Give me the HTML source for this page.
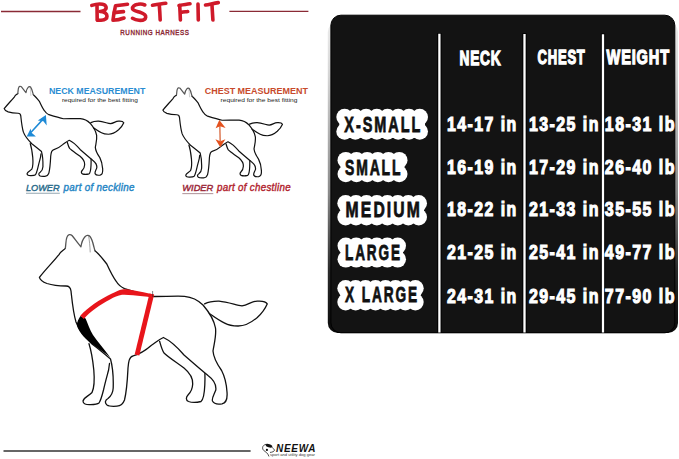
<!DOCTYPE html>
<html><head><meta charset="utf-8">
<style>
html,body{margin:0;padding:0;background:#fff;}
body{width:679px;height:459px;overflow:hidden;position:relative;font-family:"Liberation Sans",sans-serif;}
svg{position:absolute;left:0;top:0;}
</style></head>
<body>
<svg width="679" height="459" viewBox="0 0 679 459">
<defs>
  <g id="dog" fill="none" stroke="#111" stroke-linecap="round" stroke-linejoin="round">
    <path d="M95 250.7 C99 254 103 259 106.8 264 C110 271 113 277 116.2 281.3 C118 284.5 120 286.5 124.5 288.7 C135 292 145 295 152.3 296.5 C165 296.5 175 296 184.5 296.3 C192 297 198 300 203 305 C209 312 214 320 215.5 328 C216.5 336 214 344 213 351 C213.5 358 217 364 221.6 370.5 C225 377 226.5 384 227 392 C227.5 398 226 403 222 403.8 C218 404.5 214 404 212.5 401 C211.5 398 214 395 215.8 390 C216.5 384 214 380 208 375.5 C200 369 192 362 184 355 C178 348 171 341 163.4 337.5 C158 340 155 343 151.5 345.2 C146 350 140 354 133.2 355.9 C129 357 128.5 362 128 368 C127.5 378 127 390 124.5 400 C123 404 121 406 117 406.2 C113 406.5 109 406.5 107 405 C104.5 403 105 400 108 398.5 C111 396 113 393 113.2 388 C113.5 378 113 368 110.5 359 C107 356 100 350 92 344 C85 337 79 330 76 322 C73 312 72 300 71 291 C70.5 287 69 286 66 286 C60 286 53 285.5 47 283.5 C43 282 40 280 39.4 277.4 C45 270 53 262 59 254.6 C61 251 64 250 65.3 248.4"/>
    <path d="M65.3 248.4 C66 244 65.8 239.5 67 237 C68 234.5 70.2 233.8 72 235.5 C74.5 238.5 78 243.5 80.9 246.8 C81.5 243 82.5 239.5 85 236.8 C86.5 235.2 88.5 234.8 90 236.5 C92 239 93 243 93.8 246.5 C94.3 248.5 94.6 249.8 95 250.7" stroke="#555"/>
    <path d="M89 343.7 C91 350 92.8 360 93.8 370 C94.5 378 95 386 92 392.5 C89 396 84 397 83 401 C83 404 86 404.8 90 404.7 C93 404.6 97 404.6 99 403 C101 400 102 396 103.5 390 C105 383 107 376 108.6 370 C109 367 109.3 365 109.5 363.5"/>
    <path d="M159.6 341.3 C161 346 162 350 164 353 C168 357 176 362 184 368 C190 373 193 378 192.7 384 C192.5 389 191 392 188 395 C186 397 185.5 400 188.5 401.5 C192 402.8 197 402.5 201 401.5 C204 399 204.5 392 204.8 385 C205 380 205 376 204.9 373.5"/>
    <path d="M204.6 303.9 C210 301 214 301 219 301.1 C228 302 236 305 242 305.9 C248 305 252 301 257.3 301.1 C262 300.8 266 301.5 267.2 303.9 C265 309 261 314 257.3 317.4 C252 322 244 326 238.1 326 C232 326 228 325 224.7 323.1 C218 320 213 316 209.4 313.5" />
    <path d="M88.6 235.8 C89.5 241 90 246 90.2 252" stroke-width="0.6" stroke="#666"/>
  </g>
</defs>

<!-- Title lines -->
<line x1="1" y1="11.5" x2="80.5" y2="11.5" stroke="#8a2a35" stroke-width="1.4"/>
<line x1="229.4" y1="11.4" x2="308.4" y2="11.4" stroke="#8a2a35" stroke-width="1.4"/>

<!-- BEST FIT -->
<g fill="none" stroke="#cf1a2a" stroke-width="3.6" stroke-linecap="round" stroke-linejoin="round">
  <path d="M91.8 5.4 C95 4.3 99 3.6 102.5 4.2 C106.5 5 107 8.5 104.8 10 C103 11 101 11.3 100 11.5 C104 11.8 107 13.5 107 16.3 C107 19 104.5 20 101 20.2 C99.5 20.3 98.5 20.2 97.5 20.1"/>
  <path d="M97 5 L97.2 20"/>
  <path d="M127.5 4.2 C123 4.6 119 5.2 115.5 5.8 C114.5 10 113.5 15 113 20.2 C117 20.2 121 19.2 124 18"/>
  <path d="M114.3 12.6 C117.5 12.2 120.5 11.9 123.5 11.6"/>
  <path d="M144.8 5 C143 4.2 140.5 3.8 138 4.3 C134 5 132 7 132.5 8.7 C133 10.5 137 11.3 140 12.3 C143.5 13.5 146 15 145.7 17.2 C145.3 19.8 142 20.5 139 20.3 C136 20.1 134 19.2 132.5 18.3"/>
  <path d="M152.5 5.2 C157 4.5 161.5 3.8 165.8 3.2"/>
  <path d="M159.3 5 C159.7 10 160 15 160.2 20"/>
  <path d="M179 5.5 C183 4.8 186.5 4.2 190 3.8"/>
  <path d="M179.7 5.5 C180 10.5 180.2 15 180.4 20"/>
  <path d="M181 12.4 C183.5 12 185.5 11.8 187.7 11.5"/>
  <path d="M198 4 L198.3 20"/>
  <path d="M205.5 5 C210 4.2 214 3.3 218.3 2.6"/>
  <path d="M212 5.3 C212.3 10.5 212.6 15.5 212.9 20"/>
</g>
<text x="120.3" y="35" font-size="6.9" fill="#8a2632" stroke="#8a2632" stroke-width="0.35" letter-spacing="0.6" textLength="69.2" lengthAdjust="spacingAndGlyphs">RUNNING HARNESS</text>

<!-- Neck dog -->
<use href="#dog" transform="translate(-16.5,-36.9) scale(0.525)" stroke-width="2.3"/>
<text x="48.9" y="94.3" font-size="8.6" font-weight="bold" fill="#2a8dd2" textLength="96.4" lengthAdjust="spacingAndGlyphs">NECK MEASUREMENT</text>
<text x="61.9" y="102" font-size="5.5" fill="#222" textLength="76" lengthAdjust="spacingAndGlyphs">required for the best fitting</text>
<g fill="#1e8ad6">
  <path d="M30.5 132.8 C34 129 39 124 43.2 118.8" fill="none" stroke="#1e8ad6" stroke-width="1.6"/>
  <path d="M45.9 115 L46.7 125.4 L43.4 121.2 L37.8 120.6 Z"/>
  <path d="M26.7 136.5 L30.7 128.4 L31.3 132.6 L35.9 136.5 Z"/>
</g>
<text x="26" y="190.9" font-size="9.7" font-style="italic" fill="#2d6d8c" stroke="#2d6d8c" stroke-width="0.45" textLength="33.6" lengthAdjust="spacingAndGlyphs">LOWER</text>
<text x="63.6" y="190.9" font-size="10.3" font-style="italic" fill="#2585c4" stroke="#2585c4" stroke-width="0.4" letter-spacing="0.3" textLength="71.2" lengthAdjust="spacingAndGlyphs">part of neckline</text>
<line x1="26" y1="193.2" x2="59.8" y2="193.2" stroke="#93a6b0" stroke-width="1.1"/>

<!-- Chest dog -->
<use href="#dog" transform="translate(142.2,-35.4) scale(0.525)" stroke-width="2.3"/>
<text x="204.7" y="94.2" font-size="8.6" font-weight="bold" fill="#c84a2c" textLength="103.3" lengthAdjust="spacingAndGlyphs">CHEST MEASUREMENT</text>
<text x="220.6" y="102" font-size="5.5" fill="#222" textLength="76.9" lengthAdjust="spacingAndGlyphs">required for the best fitting</text>
<g fill="#e4521f">
  <path d="M219.8 125 L220.2 141" fill="none" stroke="#dd7a55" stroke-width="1.5"/>
  <path d="M219.3 120.1 L225.6 128 L220 126.3 L215.6 128.3 Z"/>
  <path d="M220.3 147.2 L215.4 139.3 L220.3 141.3 L225.4 139.3 Z"/>
</g>
<text x="182.3" y="190.8" font-size="9.7" font-style="italic" fill="#9c2a3a" stroke="#9c2a3a" stroke-width="0.45" textLength="31" lengthAdjust="spacingAndGlyphs">WIDER</text>
<text x="217.1" y="190.8" font-size="10.3" font-style="italic" fill="#b2252f" stroke="#b2252f" stroke-width="0.4" letter-spacing="0.3" textLength="73.8" lengthAdjust="spacingAndGlyphs">part of chestline</text>
<line x1="182.3" y1="193.6" x2="213.3" y2="193.6" stroke="#b59aa0" stroke-width="1.1"/>

<!-- Large dog -->
<use href="#dog" stroke-width="1.3"/>
<!-- black pad -->
<path d="M80.5 316 C78.5 319 77 322 76.8 325 C79 333 86 340 95 346 C100 350 105 353 110.3 357.4 C103.5 348.5 97.5 341.5 93 335 C89.8 329.5 87.8 323.5 85.6 318.4 Z" fill="#000"/>
<!-- red straps -->
<path d="M80.3 315.8 C88 307 100 299.5 112 293.5 C116 291.5 119 290 122 289.4 C126 289 130 289.6 133 290.3 C140 291.6 147 293 153.5 294.6 L153 297.6 C146 296.6 139 295.8 133 295.3 C129 294.9 125.5 294.6 122 294.8 C118 295.5 114 297.2 110 299.4 C100 304.6 90 311.5 83.8 319 Z" fill="#e8151b"/>
<path d="M151.8 294 L137 355" fill="none" stroke="#e8151b" stroke-width="4.8"/>
<line x1="152.6" y1="291" x2="152.6" y2="297" stroke="#333" stroke-width="0.6"/>

<!-- bottom line + logo -->
<line x1="3.5" y1="451" x2="250.6" y2="451" stroke="#666" stroke-width="2.2"/>
<g fill="none" stroke="#222" stroke-width="0.8" stroke-linecap="round">
  <path d="M265.9 444.3 C264 444.8 262.6 446 262.6 447.8 C262.6 449.5 263.5 450.5 264.8 451.3 C266 452.2 267.3 453 267.9 454.2 C268.3 455 268.6 455.6 268.8 456.1"/>
  <path d="M272.1 447.4 C273.2 448.3 274.3 449.3 274.5 450.3 C274 451.5 272.5 452.2 270.4 452.4"/>
  <ellipse cx="269" cy="445.8" rx="3.4" ry="1.6" transform="rotate(18 269 445.8)" fill="#111" stroke="none"/>
  <circle cx="266.9" cy="449.9" r="1.1" fill="#111" stroke="none"/>
</g>
<text x="276" y="452.2" font-size="10.4" font-weight="bold" font-style="italic" fill="#111" letter-spacing="0.8" textLength="40.3" lengthAdjust="spacingAndGlyphs">NEEWA</text>
<text x="270" y="456.2" font-size="2.8" fill="#333" textLength="45" lengthAdjust="spacingAndGlyphs">sport and utility dog gear</text>

<!-- Size chart panel -->
<defs><linearGradient id="sg" x1="0" y1="0" x2="0" y2="1"><stop offset="0" stop-color="#ececec"/><stop offset="0.15" stop-color="#d8d8d8"/><stop offset="0.55" stop-color="#8a8a8a"/><stop offset="0.8" stop-color="#2a2a2a"/><stop offset="1" stop-color="#0a0a0a"/></linearGradient></defs>
<rect x="327.8" y="22" width="350.2" height="311" rx="10" fill="url(#sg)"/>
<rect x="330.9" y="15.2" width="343.9" height="317.6" rx="10" fill="#131313" stroke="#000" stroke-width="1"/>
<g stroke="#000" stroke-width="4.4">
  <line x1="439.4" y1="33" x2="439.4" y2="332.5"/>
  <line x1="524.5" y1="33.3" x2="524.5" y2="332.5"/>
  <line x1="603" y1="33.5" x2="603" y2="332.5"/>
</g>
<g stroke="#fff" stroke-width="2.3">
  <line x1="439.4" y1="33.7" x2="439.4" y2="332.5"/>
  <line x1="524.5" y1="34" x2="524.5" y2="332.5"/>
  <line x1="603" y1="34.2" x2="603" y2="332.5"/>
</g>
<g fill="#fff" stroke="#fff" stroke-width="1.3" font-weight="bold" font-size="20.8" letter-spacing="1.2" transform="translate(0,-0.8)">
  <text x="459.5" y="65.5" textLength="42" lengthAdjust="spacingAndGlyphs">NECK</text>
  <text x="537.6" y="65.3" textLength="48" lengthAdjust="spacingAndGlyphs">CHEST</text>
  <text x="606.6" y="65.3" textLength="63.3" lengthAdjust="spacingAndGlyphs">WEIGHT</text>
</g>
<g fill="#fff" stroke="#fff" stroke-width="1.1" font-weight="bold" font-size="19.6" letter-spacing="1.8" transform="translate(0,-0.5)">
  <text x="447" y="131.1" textLength="70.7" lengthAdjust="spacingAndGlyphs">14-17 in</text>
  <text x="528.9" y="131.1" textLength="71.0" lengthAdjust="spacingAndGlyphs">13-25 in</text>
  <text x="604.8" y="131.1" textLength="71.2" lengthAdjust="spacingAndGlyphs">18-31 lb</text>

  <text x="447" y="174.1" textLength="70.7" lengthAdjust="spacingAndGlyphs">16-19 in</text>
  <text x="528.9" y="174.1" textLength="71.0" lengthAdjust="spacingAndGlyphs">17-29 in</text>
  <text x="604.8" y="174.1" textLength="71.2" lengthAdjust="spacingAndGlyphs">26-40 lb</text>

  <text x="447" y="216.1" textLength="70.7" lengthAdjust="spacingAndGlyphs">18-22 in</text>
  <text x="528.9" y="216.1" textLength="71.0" lengthAdjust="spacingAndGlyphs">21-33 in</text>
  <text x="604.8" y="216.1" textLength="71.2" lengthAdjust="spacingAndGlyphs">35-55 lb</text>

  <text x="447" y="259.4" textLength="70.7" lengthAdjust="spacingAndGlyphs">21-25 in</text>
  <text x="528.9" y="259.4" textLength="71.0" lengthAdjust="spacingAndGlyphs">25-41 in</text>
  <text x="604.8" y="259.4" textLength="71.2" lengthAdjust="spacingAndGlyphs">49-77 lb</text>

  <text x="447" y="303.2" textLength="70.7" lengthAdjust="spacingAndGlyphs">24-31 in</text>
  <text x="528.9" y="303.2" textLength="71.0" lengthAdjust="spacingAndGlyphs">29-45 in</text>
  <text x="604.8" y="303.2" textLength="71.2" lengthAdjust="spacingAndGlyphs">77-90 lb</text>
</g>
<!-- badges -->
<g fill="#fff">
<rect x="339.3" y="111.8" width="85.7" height="25.0" rx="6"/>
<circle cx="344.6" cy="117.1" r="8.3"/><circle cx="344.6" cy="131.5" r="8.3"/>
<circle cx="355.3" cy="117.1" r="8.3"/><circle cx="355.3" cy="131.5" r="8.3"/>
<circle cx="366.1" cy="117.1" r="8.3"/><circle cx="366.1" cy="131.5" r="8.3"/>
<circle cx="376.8" cy="117.1" r="8.3"/><circle cx="376.8" cy="131.5" r="8.3"/>
<circle cx="387.5" cy="117.1" r="8.3"/><circle cx="387.5" cy="131.5" r="8.3"/>
<circle cx="398.2" cy="117.1" r="8.3"/><circle cx="398.2" cy="131.5" r="8.3"/>
<circle cx="409.0" cy="117.1" r="8.3"/><circle cx="409.0" cy="131.5" r="8.3"/>
<circle cx="419.7" cy="117.1" r="8.3"/><circle cx="419.7" cy="131.5" r="8.3"/>
<rect x="340.5" y="154.9" width="64.0" height="24.4" rx="6"/>
<circle cx="345.8" cy="160.2" r="8.3"/><circle cx="345.8" cy="174.0" r="8.3"/>
<circle cx="356.5" cy="160.2" r="8.3"/><circle cx="356.5" cy="174.0" r="8.3"/>
<circle cx="367.2" cy="160.2" r="8.3"/><circle cx="367.2" cy="174.0" r="8.3"/>
<circle cx="377.8" cy="160.2" r="8.3"/><circle cx="377.8" cy="174.0" r="8.3"/>
<circle cx="388.5" cy="160.2" r="8.3"/><circle cx="388.5" cy="174.0" r="8.3"/>
<circle cx="399.2" cy="160.2" r="8.3"/><circle cx="399.2" cy="174.0" r="8.3"/>
<rect x="340.3" y="198.0" width="83.7" height="24.4" rx="6"/>
<circle cx="345.6" cy="203.3" r="8.3"/><circle cx="345.6" cy="217.1" r="8.3"/>
<circle cx="356.0" cy="203.3" r="8.3"/><circle cx="356.0" cy="217.1" r="8.3"/>
<circle cx="366.5" cy="203.3" r="8.3"/><circle cx="366.5" cy="217.1" r="8.3"/>
<circle cx="376.9" cy="203.3" r="8.3"/><circle cx="376.9" cy="217.1" r="8.3"/>
<circle cx="387.4" cy="203.3" r="8.3"/><circle cx="387.4" cy="217.1" r="8.3"/>
<circle cx="397.8" cy="203.3" r="8.3"/><circle cx="397.8" cy="217.1" r="8.3"/>
<circle cx="408.3" cy="203.3" r="8.3"/><circle cx="408.3" cy="217.1" r="8.3"/>
<circle cx="418.7" cy="203.3" r="8.3"/><circle cx="418.7" cy="217.1" r="8.3"/>
<rect x="340.5" y="240.5" width="62.5" height="24.1" rx="6"/>
<circle cx="345.8" cy="245.8" r="8.3"/><circle cx="345.8" cy="259.3" r="8.3"/>
<circle cx="356.2" cy="245.8" r="8.3"/><circle cx="356.2" cy="259.3" r="8.3"/>
<circle cx="366.6" cy="245.8" r="8.3"/><circle cx="366.6" cy="259.3" r="8.3"/>
<circle cx="376.9" cy="245.8" r="8.3"/><circle cx="376.9" cy="259.3" r="8.3"/>
<circle cx="387.3" cy="245.8" r="8.3"/><circle cx="387.3" cy="259.3" r="8.3"/>
<circle cx="397.7" cy="245.8" r="8.3"/><circle cx="397.7" cy="259.3" r="8.3"/>
<rect x="340.3" y="283.0" width="80.4" height="24.4" rx="6"/>
<circle cx="345.6" cy="288.3" r="8.3"/><circle cx="345.6" cy="302.1" r="8.3"/>
<circle cx="355.6" cy="288.3" r="8.3"/><circle cx="355.6" cy="302.1" r="8.3"/>
<circle cx="365.5" cy="288.3" r="8.3"/><circle cx="365.5" cy="302.1" r="8.3"/>
<circle cx="375.5" cy="288.3" r="8.3"/><circle cx="375.5" cy="302.1" r="8.3"/>
<circle cx="385.5" cy="288.3" r="8.3"/><circle cx="385.5" cy="302.1" r="8.3"/>
<circle cx="395.5" cy="288.3" r="8.3"/><circle cx="395.5" cy="302.1" r="8.3"/>
<circle cx="405.4" cy="288.3" r="8.3"/><circle cx="405.4" cy="302.1" r="8.3"/>
<circle cx="415.4" cy="288.3" r="8.3"/><circle cx="415.4" cy="302.1" r="8.3"/>
</g>
<g font-weight="bold" font-size="22" fill="#111" stroke="#111" stroke-width="0.8" letter-spacing="3">
  <text x="344.3" y="131.8" textLength="78.0" lengthAdjust="spacingAndGlyphs">X-SMALL</text>
  <text x="345" y="174.6" textLength="57.4" lengthAdjust="spacingAndGlyphs">SMALL</text>
  <text x="345.6" y="217" textLength="76.4" lengthAdjust="spacingAndGlyphs">MEDIUM</text>
  <text x="345" y="259.6" textLength="56.8" lengthAdjust="spacingAndGlyphs">LARGE</text>
  <text x="345" y="302" textLength="73.9" lengthAdjust="spacingAndGlyphs">X LARGE</text>
</g>
</svg>
</body></html>
